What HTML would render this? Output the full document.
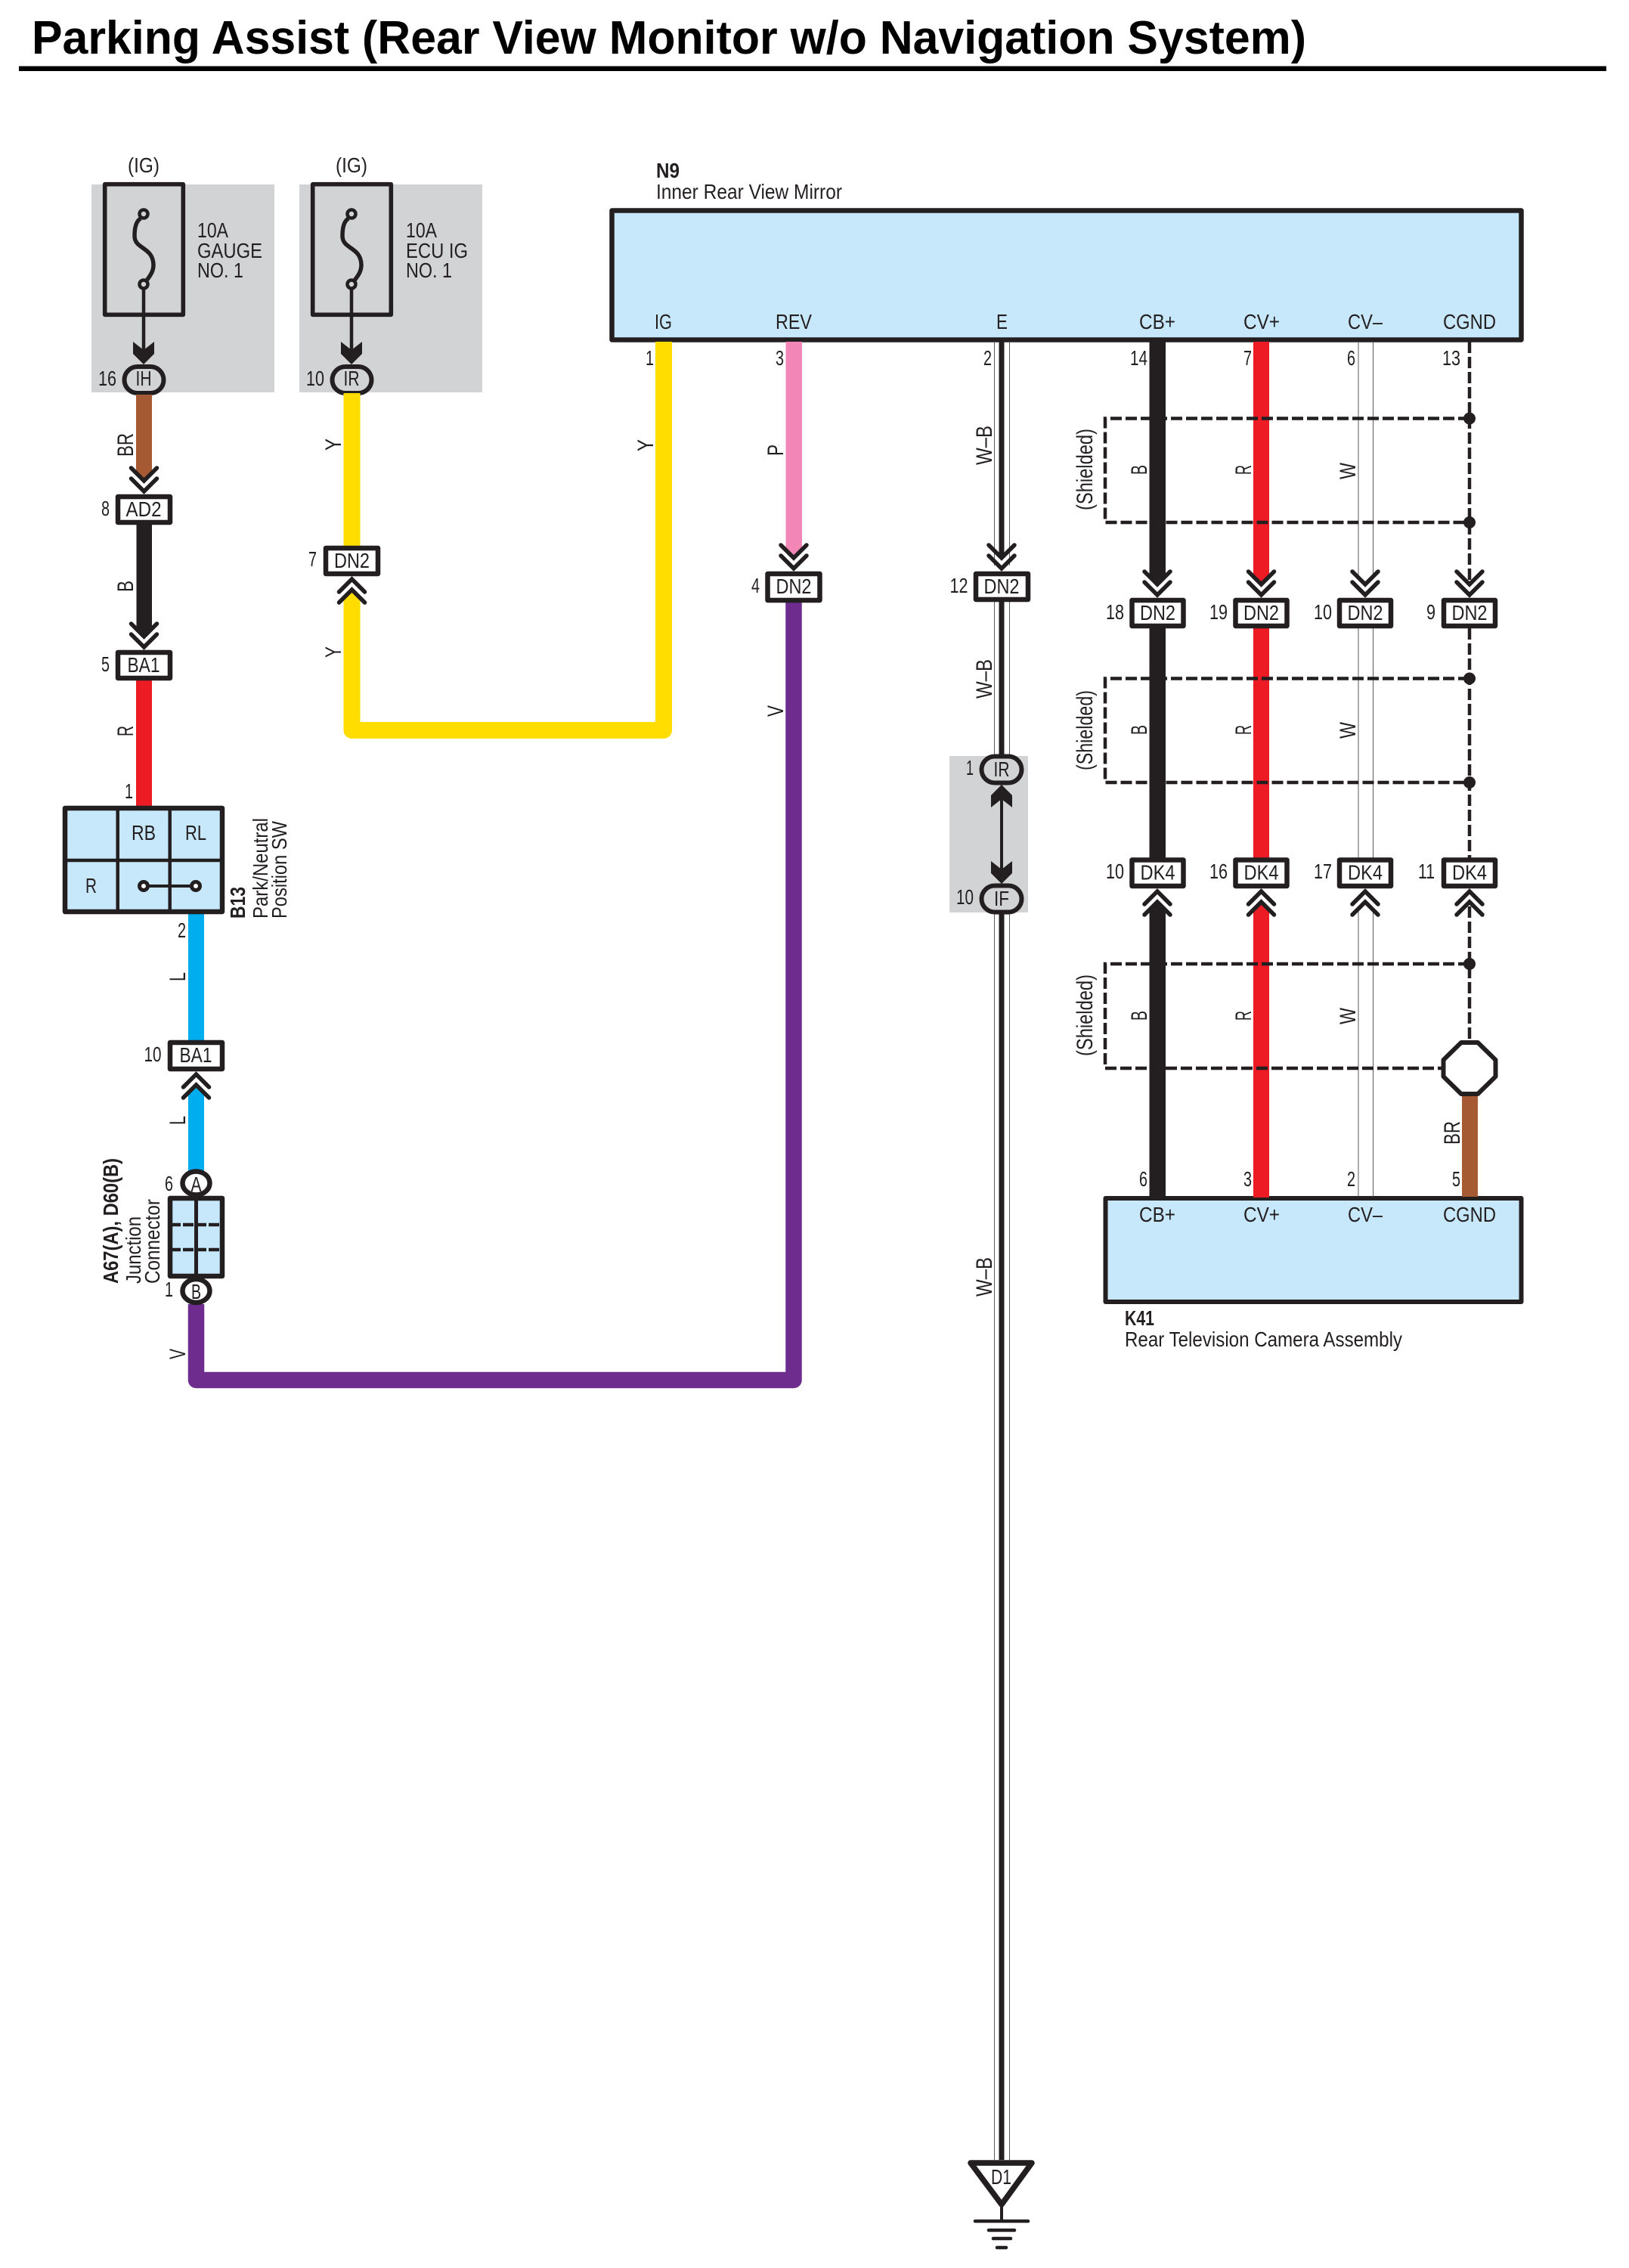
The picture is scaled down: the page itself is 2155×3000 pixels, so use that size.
<!DOCTYPE html>
<html><head><meta charset="utf-8"><title>Parking Assist</title>
<style>
html,body{margin:0;padding:0;background:#fff}
svg{display:block}
text{font-family:"Liberation Sans",sans-serif;font-size:28px;fill:#231f20}
text[transform]{font-size:30px}
text.c{font-size:28px}
.b{font-weight:bold}
.m{text-anchor:middle}
</style></head><body>
<svg xmlns="http://www.w3.org/2000/svg" width="2155" height="3000" viewBox="0 0 2155 3000">
<rect width="2155" height="3000" fill="#fff"/>
<text x="42" y="71" class="b" style="font-size:62px;fill:#000" textLength="1686" lengthAdjust="spacingAndGlyphs">Parking Assist (Rear View Monitor w/o Navigation System)</text>
<rect x="25" y="87.5" width="2100" height="6.5" fill="#000"/>

<!-- grey blocks -->
<rect x="121" y="244" width="242" height="275" fill="#d1d3d4"/>
<rect x="396" y="244" width="242" height="275" fill="#d1d3d4"/>
<rect x="1256" y="1000" width="104" height="207" fill="#d1d3d4"/>

<!-- modules -->
<rect x="809.5" y="278.5" width="1203" height="171" fill="#c7e8fb" stroke="#231f20" stroke-width="6.5" stroke-linejoin="round"/>
<rect x="1462.5" y="1585" width="550" height="137" fill="#c7e8fb" stroke="#231f20" stroke-width="6" stroke-linejoin="round"/>

<!-- fuse 1 -->
<g>
<rect x="138.7" y="243.7" width="103.6" height="172.6" fill="none" stroke="#231f20" stroke-width="5.6" stroke-linejoin="round"/>
<path d="M186 289C179 293 178 305 178 312C178 330 202 326 203 350C203 360 198 365 194 371" fill="none" stroke="#231f20" stroke-width="5.5"/>
<circle cx="190" cy="283" r="5.5" fill="#d1d3d4" stroke="#231f20" stroke-width="4.5"/>
<circle cx="190" cy="376" r="5.5" fill="#d1d3d4" stroke="#231f20" stroke-width="4.5"/>
<line x1="190" y1="381" x2="190" y2="465" stroke="#231f20" stroke-width="4.5"/>
<polygon points="176,452 190,463 204,452 204,468 190,482 176,468" fill="#231f20"/>
<rect x="164.5" y="485" width="52" height="35" rx="17.5" fill="#d1d3d4" stroke="#231f20" stroke-width="6"/>
</g>
<g transform="translate(275,0)">
<rect x="138.7" y="243.7" width="103.6" height="172.6" fill="none" stroke="#231f20" stroke-width="5.6" stroke-linejoin="round"/>
<path d="M186 289C179 293 178 305 178 312C178 330 202 326 203 350C203 360 198 365 194 371" fill="none" stroke="#231f20" stroke-width="5.5"/>
<circle cx="190" cy="283" r="5.5" fill="#d1d3d4" stroke="#231f20" stroke-width="4.5"/>
<circle cx="190" cy="376" r="5.5" fill="#d1d3d4" stroke="#231f20" stroke-width="4.5"/>
<line x1="190" y1="381" x2="190" y2="465" stroke="#231f20" stroke-width="4.5"/>
<polygon points="176,452 190,463 204,452 204,468 190,482 176,468" fill="#231f20"/>
<rect x="164.5" y="485" width="52" height="35" rx="17.5" fill="#d1d3d4" stroke="#231f20" stroke-width="6"/>
</g>

<!-- left wires -->
<polygon points="180,522 201,522 201,626 190.5,636 180,626" fill="#a65a34"/>
<polygon points="180.5,694 201,694 201,832 190.5,842 180.5,832" fill="#231f20"/>
<rect x="180" y="900" width="21" height="167" fill="#ed1c24"/>
<polygon points="249,1209 270,1209 270,1377 249,1377" fill="#00aeef"/>
<polygon points="259.5,1435 270,1445 270,1549 249,1549 249,1445" fill="#00aeef"/>
<polyline points="259.5,1725 259.5,1825.5 1050,1825.5 1050,796" fill="none" stroke="#6d2c8e" stroke-width="21.5" stroke-linejoin="round"/>
<polyline points="465.5,790 465.5,966 878,966 878,452" fill="none" stroke="#ffdd00" stroke-width="22" stroke-linejoin="round"/>
<polygon points="454.5,790 465.5,780 476.5,790" fill="#ffdd00"/>
<rect x="454.5" y="520" width="22" height="204" fill="#ffdd00"/>
<polygon points="1039.5,452 1061,452 1061,728 1050,738 1039.5,728" fill="#f287b7"/>

<!-- E wire -->
<g stroke="#58595b" stroke-width="1">
<line x1="1315.5" y1="452" x2="1315.5" y2="748"/><line x1="1335.5" y1="452" x2="1335.5" y2="748"/>
<line x1="1315.5" y1="796" x2="1315.5" y2="1002"/><line x1="1335.5" y1="796" x2="1335.5" y2="1002"/>
<line x1="1315.5" y1="1205" x2="1315.5" y2="2857"/><line x1="1335.5" y1="1205" x2="1335.5" y2="2857"/>
</g>
<g fill="#231f20">
<rect x="1321.5" y="452" width="7" height="286"/>
<rect x="1321.5" y="796" width="7" height="204"/>
<rect x="1321.5" y="1207" width="7" height="1650"/>
</g>
<line x1="1325" y1="1057" x2="1325" y2="1150" stroke="#231f20" stroke-width="4"/>
<polygon points="1325,1038 1339,1052 1339,1068 1325,1057 1311,1068 1311,1052" fill="#231f20"/>
<polygon points="1311,1139 1325,1150 1339,1139 1339,1155 1325,1169 1311,1155" fill="#231f20"/>
<rect x="1298.5" y="1000.5" width="53" height="35" rx="17.5" fill="#d1d3d4" stroke="#231f20" stroke-width="6"/>
<rect x="1298.5" y="1171.5" width="53" height="35" rx="17.5" fill="#d1d3d4" stroke="#231f20" stroke-width="6"/>

<!-- D1 ground -->
<polygon points="1284,2861 1365,2861 1325,2916" fill="#fff" stroke="#231f20" stroke-width="7.5" stroke-linejoin="round"/>
<g stroke="#231f20" stroke-linecap="round">
<line x1="1325" y1="2918" x2="1325" y2="2938" stroke-width="4"/>
<line x1="1290" y1="2938" x2="1360" y2="2938" stroke-width="4.5"/>
<line x1="1308" y1="2950" x2="1342" y2="2950" stroke-width="4.5"/>
<line x1="1314" y1="2961" x2="1337" y2="2961" stroke-width="4.5"/>
<line x1="1319" y1="2973" x2="1331" y2="2973" stroke-width="4.5"/>
</g>

<!-- right wires -->
<g fill="#231f20">
<polygon points="1520.5,452 1542,452 1542,763 1531,773 1520.5,763"/>
<rect x="1520.5" y="831" width="21.5" height="304"/>
<polygon points="1531,1193 1542,1203 1542,1584 1520.5,1584 1520.5,1203"/>
</g>
<g fill="#ed1c24">
<polygon points="1658,452 1679,452 1679,763 1668.5,773 1658,763"/>
<rect x="1658" y="831" width="21" height="304"/>
<polygon points="1668.5,1193 1679,1203 1679,1584 1658,1584 1658,1203"/>
</g>
<g stroke="#58595b" stroke-width="1">
<line x1="1797" y1="452" x2="1797" y2="763"/><line x1="1816.5" y1="452" x2="1816.5" y2="763"/>
<line x1="1797" y1="831" x2="1797" y2="1135"/><line x1="1816.5" y1="831" x2="1816.5" y2="1135"/>
<line x1="1797" y1="1202" x2="1797" y2="1583"/><line x1="1816.5" y1="1202" x2="1816.5" y2="1583"/>
</g>
<rect x="1934" y="1449" width="21" height="134" fill="#a65a34"/>

<!-- shields -->
<g fill="none" stroke="#231f20" stroke-width="4.5" stroke-dasharray="15 5">
<line x1="1944" y1="452" x2="1944" y2="773"/>
<line x1="1944" y1="831" x2="1944" y2="1135"/>
<line x1="1944" y1="1199" x2="1944" y2="1378"/>
<polyline points="1944,553.5 1462,553.5 1462,691 1944,691"/>
<polyline points="1944,897.5 1462,897.5 1462,1035 1944,1035"/>
<polyline points="1944,1275 1462,1275 1462,1413 1910,1413"/>
</g>
<g fill="#231f20">
<circle cx="1944" cy="553.5" r="8"/><circle cx="1944" cy="691" r="8"/>
<circle cx="1944" cy="897.5" r="8"/><circle cx="1944" cy="1035" r="8"/>
<circle cx="1944" cy="1275" r="8"/>
</g>
<polygon points="1933,1379 1955,1379 1978.5,1402 1978.5,1424 1955,1447 1933,1447 1909.5,1424 1909.5,1402" fill="#fff" stroke="#231f20" stroke-width="6" stroke-linejoin="round"/>

<!-- chevrons -->
<g fill="none" stroke="#231f20" stroke-width="5.5" stroke-linecap="round" stroke-linejoin="miter">
<path d="M173.5 619L190.5 636L207.5 619M173.5 633L190.5 650L207.5 633"/>
<path d="M173.5 825L190.5 842L207.5 825M173.5 839L190.5 856L207.5 839"/>
<path d="M1033 721L1050 738L1067 721M1033 735L1050 752L1067 735"/>
<path d="M1308 721L1325 738L1342 721M1308 735L1325 752L1342 735"/>
<path d="M1514 756L1531 773L1548 756M1514 770L1531 787L1548 770"/>
<path d="M1651.5 756L1668.5 773L1685.5 756M1651.5 770L1668.5 787L1685.5 770"/>
<path d="M1789 756L1806 773L1823 756M1789 770L1806 787L1823 770"/>
<path d="M1927 756L1944 773L1961 756M1927 770L1944 787L1961 770"/>
<path d="M448.5 783L465.5 766L482.5 783M448.5 797L465.5 780L482.5 797"/>
<path d="M242.5 1438L259.5 1421L276.5 1438M242.5 1452L259.5 1435L276.5 1452"/>
<path d="M1514 1196L1531 1179L1548 1196M1514 1210L1531 1193L1548 1210"/>
<path d="M1651.5 1196L1668.5 1179L1685.5 1196M1651.5 1210L1668.5 1193L1685.5 1210"/>
<path d="M1789 1196L1806 1179L1823 1196M1789 1210L1806 1193L1823 1210"/>
<path d="M1927 1196L1944 1179L1961 1196M1927 1210L1944 1193L1961 1210"/>
</g>

<!-- connectors -->
<g fill="#fff" stroke="#231f20" stroke-width="6.5" stroke-linejoin="round">
<rect x="156" y="657" width="69" height="34"/>
<rect x="156" y="863" width="69" height="34"/>
<rect x="225" y="1379" width="69" height="35"/>
<rect x="431" y="725" width="69" height="34"/>
<rect x="1015.5" y="759" width="69" height="35"/>
<rect x="1291" y="759" width="69" height="34"/>
<rect x="1497.5" y="794" width="68" height="34"/>
<rect x="1634.5" y="794" width="68" height="34"/>
<rect x="1772" y="794" width="68" height="34"/>
<rect x="1910" y="794" width="68" height="34"/>
<rect x="1497.5" y="1137.5" width="68" height="34.5"/>
<rect x="1634.5" y="1137.5" width="68" height="34.5"/>
<rect x="1772" y="1137.5" width="68" height="34.5"/>
<rect x="1910" y="1137.5" width="68" height="34.5"/>
</g>

<!-- B13 -->
<rect x="86" y="1069" width="208" height="137" fill="#c7e8fb" stroke="#231f20" stroke-width="6.5" stroke-linejoin="round"/>
<g stroke="#231f20" stroke-width="4.5">
<line x1="155.7" y1="1069" x2="155.7" y2="1206"/>
<line x1="224.7" y1="1069" x2="224.7" y2="1206"/>
<line x1="86" y1="1138" x2="294" y2="1138"/>
</g>
<line x1="190" y1="1172" x2="259" y2="1172" stroke="#231f20" stroke-width="4"/>
<circle cx="190" cy="1172" r="5.5" fill="#fff" stroke="#231f20" stroke-width="5"/>
<circle cx="259" cy="1172" r="5.5" fill="#fff" stroke="#231f20" stroke-width="5"/>

<!-- junction connector -->
<rect x="225" y="1585" width="69" height="103" fill="#c7e8fb" stroke="#231f20" stroke-width="6.5" stroke-linejoin="round"/>
<line x1="259.5" y1="1585" x2="259.5" y2="1688" stroke="#231f20" stroke-width="5"/>
<g stroke="#231f20" stroke-width="4.5" stroke-dasharray="14 3">
<line x1="225" y1="1620" x2="294" y2="1620"/>
<line x1="225" y1="1653" x2="294" y2="1653"/>
</g>
<ellipse cx="259.5" cy="1565" rx="18" ry="15.5" fill="#fff" stroke="#231f20" stroke-width="6.5"/>
<ellipse cx="259.5" cy="1707.5" rx="18" ry="15.5" fill="#fff" stroke="#231f20" stroke-width="6.5"/>

<!-- top text -->
<text x="190" y="228" class="m" textLength="42" lengthAdjust="spacingAndGlyphs">(IG)</text>
<text x="465" y="228" class="m" textLength="42" lengthAdjust="spacingAndGlyphs">(IG)</text>
<text x="261" y="314" textLength="41" lengthAdjust="spacingAndGlyphs">10A</text>
<text x="261" y="341" textLength="86" lengthAdjust="spacingAndGlyphs">GAUGE</text>
<text x="261" y="367" textLength="61" lengthAdjust="spacingAndGlyphs">NO. 1</text>
<text x="537" y="314" textLength="41" lengthAdjust="spacingAndGlyphs">10A</text>
<text x="537" y="341" textLength="82" lengthAdjust="spacingAndGlyphs">ECU IG</text>
<text x="537" y="367" textLength="61" lengthAdjust="spacingAndGlyphs">NO. 1</text>
<text x="868" y="235" class="b" textLength="31" lengthAdjust="spacingAndGlyphs">N9</text>
<text x="868" y="263" textLength="246" lengthAdjust="spacingAndGlyphs">Inner Rear View Mirror</text>
<text x="866" y="435" textLength="23" lengthAdjust="spacingAndGlyphs">IG</text>
<text x="1026" y="435" textLength="48" lengthAdjust="spacingAndGlyphs">REV</text>
<text x="1318" y="435" textLength="15" lengthAdjust="spacingAndGlyphs">E</text>
<text x="1507" y="435" textLength="48" lengthAdjust="spacingAndGlyphs">CB+</text>
<text x="1645" y="435" textLength="48" lengthAdjust="spacingAndGlyphs">CV+</text>
<text x="1783" y="435" textLength="46" lengthAdjust="spacingAndGlyphs">CV–</text>
<text x="1909" y="435" textLength="70" lengthAdjust="spacingAndGlyphs">CGND</text>
<text x="1507" y="1616" textLength="48" lengthAdjust="spacingAndGlyphs">CB+</text>
<text x="1645" y="1616" textLength="48" lengthAdjust="spacingAndGlyphs">CV+</text>
<text x="1783" y="1616" textLength="46" lengthAdjust="spacingAndGlyphs">CV–</text>
<text x="1909" y="1616" textLength="70" lengthAdjust="spacingAndGlyphs">CGND</text>
<text x="1488" y="1753" class="b" textLength="39" lengthAdjust="spacingAndGlyphs">K41</text>
<text x="1488" y="1781" textLength="367" lengthAdjust="spacingAndGlyphs">Rear Television Camera Assembly</text>

<!-- connector codes -->
<g>
<text x="190" y="510" class="m" textLength="21" lengthAdjust="spacingAndGlyphs">IH</text>
<text x="465" y="510" class="m" textLength="21" lengthAdjust="spacingAndGlyphs">IR</text>
<text x="1325" y="1027" class="m" textLength="21" lengthAdjust="spacingAndGlyphs">IR</text>
<text x="1325" y="1198" class="m" textLength="20" lengthAdjust="spacingAndGlyphs">IF</text>
<text x="190" y="683" class="m" textLength="47" lengthAdjust="spacingAndGlyphs">AD2</text>
<text x="190" y="889" class="m" textLength="43" lengthAdjust="spacingAndGlyphs">BA1</text>
<text x="259" y="1405" class="m" textLength="43" lengthAdjust="spacingAndGlyphs">BA1</text>
<text x="465.5" y="751" class="m" textLength="47" lengthAdjust="spacingAndGlyphs">DN2</text>
<text x="1050" y="785" class="m" textLength="47" lengthAdjust="spacingAndGlyphs">DN2</text>
<text x="1325" y="785" class="m" textLength="47" lengthAdjust="spacingAndGlyphs">DN2</text>
<text x="1531.5" y="820" class="m" textLength="47" lengthAdjust="spacingAndGlyphs">DN2</text>
<text x="1668.5" y="820" class="m" textLength="47" lengthAdjust="spacingAndGlyphs">DN2</text>
<text x="1806" y="820" class="m" textLength="47" lengthAdjust="spacingAndGlyphs">DN2</text>
<text x="1944" y="820" class="m" textLength="47" lengthAdjust="spacingAndGlyphs">DN2</text>
<text x="1531.5" y="1163.5" class="m" textLength="46" lengthAdjust="spacingAndGlyphs">DK4</text>
<text x="1668.5" y="1163.5" class="m" textLength="46" lengthAdjust="spacingAndGlyphs">DK4</text>
<text x="1806" y="1163.5" class="m" textLength="46" lengthAdjust="spacingAndGlyphs">DK4</text>
<text x="1944" y="1163.5" class="m" textLength="46" lengthAdjust="spacingAndGlyphs">DK4</text>
<text x="259.5" y="1576" class="m" textLength="14" lengthAdjust="spacingAndGlyphs">A</text>
<text x="259.5" y="1718" class="m" textLength="13" lengthAdjust="spacingAndGlyphs">B</text>
<text x="190" y="1111" class="m" textLength="32" lengthAdjust="spacingAndGlyphs">RB</text>
<text x="259" y="1111" class="m" textLength="28" lengthAdjust="spacingAndGlyphs">RL</text>
<text x="120.5" y="1181" class="m" textLength="15" lengthAdjust="spacingAndGlyphs">R</text>
<text x="1324.5" y="2889" class="m" textLength="27" lengthAdjust="spacingAndGlyphs">D1</text>
</g>

<!-- pin numbers -->
<g>
<text x="130" y="510" textLength="24" lengthAdjust="spacingAndGlyphs">16</text>
<text x="405" y="510" textLength="24" lengthAdjust="spacingAndGlyphs">10</text>
<text x="134" y="682" textLength="11" lengthAdjust="spacingAndGlyphs">8</text>
<text x="134" y="888" textLength="11" lengthAdjust="spacingAndGlyphs">5</text>
<text x="165" y="1056" textLength="11" lengthAdjust="spacingAndGlyphs">1</text>
<text x="235" y="1240" textLength="11" lengthAdjust="spacingAndGlyphs">2</text>
<text x="190.5" y="1404" textLength="23" lengthAdjust="spacingAndGlyphs">10</text>
<text x="218" y="1575" textLength="11" lengthAdjust="spacingAndGlyphs">6</text>
<text x="218" y="1715" textLength="11" lengthAdjust="spacingAndGlyphs">1</text>
<text x="408" y="749" textLength="11" lengthAdjust="spacingAndGlyphs">7</text>
<text x="854" y="483" textLength="11" lengthAdjust="spacingAndGlyphs">1</text>
<text x="1026" y="483" textLength="11" lengthAdjust="spacingAndGlyphs">3</text>
<text x="1301" y="483" textLength="11" lengthAdjust="spacingAndGlyphs">2</text>
<text x="1495" y="483" textLength="23" lengthAdjust="spacingAndGlyphs">14</text>
<text x="1645" y="483" textLength="11" lengthAdjust="spacingAndGlyphs">7</text>
<text x="1782" y="483" textLength="11" lengthAdjust="spacingAndGlyphs">6</text>
<text x="1908" y="483" textLength="24" lengthAdjust="spacingAndGlyphs">13</text>
<text x="994" y="784" textLength="11" lengthAdjust="spacingAndGlyphs">4</text>
<text x="1256.5" y="784" textLength="24" lengthAdjust="spacingAndGlyphs">12</text>
<text x="1463" y="819" textLength="24" lengthAdjust="spacingAndGlyphs">18</text>
<text x="1600" y="819" textLength="24" lengthAdjust="spacingAndGlyphs">19</text>
<text x="1738" y="819" textLength="24" lengthAdjust="spacingAndGlyphs">10</text>
<text x="1887" y="819" textLength="12" lengthAdjust="spacingAndGlyphs">9</text>
<text x="1278" y="1025" textLength="10" lengthAdjust="spacingAndGlyphs">1</text>
<text x="1265" y="1196" textLength="23" lengthAdjust="spacingAndGlyphs">10</text>
<text x="1463" y="1162" textLength="24" lengthAdjust="spacingAndGlyphs">10</text>
<text x="1600" y="1162" textLength="24" lengthAdjust="spacingAndGlyphs">16</text>
<text x="1738" y="1162" textLength="24" lengthAdjust="spacingAndGlyphs">17</text>
<text x="1876" y="1162" textLength="22" lengthAdjust="spacingAndGlyphs">11</text>
<text x="1507" y="1569" textLength="11" lengthAdjust="spacingAndGlyphs">6</text>
<text x="1645" y="1569" textLength="11" lengthAdjust="spacingAndGlyphs">3</text>
<text x="1782" y="1569" textLength="11" lengthAdjust="spacingAndGlyphs">2</text>
<text x="1921" y="1569" textLength="11" lengthAdjust="spacingAndGlyphs">5</text>
</g>

<!-- rotated wire labels -->
<text transform="translate(176,604) rotate(-90)" textLength="31" lengthAdjust="spacingAndGlyphs">BR</text>
<text transform="translate(176,783) rotate(-90)" textLength="15" lengthAdjust="spacingAndGlyphs">B</text>
<text transform="translate(176,974) rotate(-90)" textLength="14" lengthAdjust="spacingAndGlyphs">R</text>
<text transform="translate(245,1298) rotate(-90)" textLength="12" lengthAdjust="spacingAndGlyphs">L</text>
<text transform="translate(245,1488) rotate(-90)" textLength="12" lengthAdjust="spacingAndGlyphs">L</text>
<text transform="translate(245,1798) rotate(-90)" textLength="14" lengthAdjust="spacingAndGlyphs">V</text>
<text transform="translate(451,596) rotate(-90)" textLength="16" lengthAdjust="spacingAndGlyphs">Y</text>
<text transform="translate(451,870) rotate(-90)" textLength="15" lengthAdjust="spacingAndGlyphs">Y</text>
<text transform="translate(864,597) rotate(-90)" textLength="16" lengthAdjust="spacingAndGlyphs">Y</text>
<text transform="translate(1036,603) rotate(-90)" textLength="15" lengthAdjust="spacingAndGlyphs">P</text>
<text transform="translate(1036,948) rotate(-90)" textLength="15" lengthAdjust="spacingAndGlyphs">V</text>
<text transform="translate(1312,615) rotate(-90)" textLength="52" lengthAdjust="spacingAndGlyphs">W–B</text>
<text transform="translate(1312,924) rotate(-90)" textLength="52" lengthAdjust="spacingAndGlyphs">W–B</text>
<text transform="translate(1312,1715) rotate(-90)" textLength="52" lengthAdjust="spacingAndGlyphs">W–B</text>

<text transform="translate(1445,675) rotate(-90)" textLength="108" lengthAdjust="spacingAndGlyphs">(Shielded)</text>
<text transform="translate(1445,1019) rotate(-90)" textLength="106" lengthAdjust="spacingAndGlyphs">(Shielded)</text>
<text transform="translate(1445,1397) rotate(-90)" textLength="108" lengthAdjust="spacingAndGlyphs">(Shielded)</text>

<text transform="translate(1517,628) rotate(-90)" textLength="13" lengthAdjust="spacingAndGlyphs">B</text>
<text transform="translate(1517,972) rotate(-90)" textLength="13" lengthAdjust="spacingAndGlyphs">B</text>
<text transform="translate(1517,1350) rotate(-90)" textLength="13" lengthAdjust="spacingAndGlyphs">B</text>
<text transform="translate(1655,628) rotate(-90)" textLength="13" lengthAdjust="spacingAndGlyphs">R</text>
<text transform="translate(1655,972) rotate(-90)" textLength="13" lengthAdjust="spacingAndGlyphs">R</text>
<text transform="translate(1655,1350) rotate(-90)" textLength="13" lengthAdjust="spacingAndGlyphs">R</text>
<text transform="translate(1793,634) rotate(-90)" textLength="22" lengthAdjust="spacingAndGlyphs">W</text>
<text transform="translate(1793,977) rotate(-90)" textLength="22" lengthAdjust="spacingAndGlyphs">W</text>
<text transform="translate(1793,1355) rotate(-90)" textLength="22" lengthAdjust="spacingAndGlyphs">W</text>
<text transform="translate(1931,1514) rotate(-90)" textLength="31" lengthAdjust="spacingAndGlyphs">BR</text>

<!-- rotated component labels -->
<text transform="translate(324,1215) rotate(-90)" class="b c" textLength="42" lengthAdjust="spacingAndGlyphs">B13</text>
<text transform="translate(354,1215) rotate(-90)" class="c" textLength="133" lengthAdjust="spacingAndGlyphs">Park/Neutral</text>
<text transform="translate(379,1215) rotate(-90)" class="c" textLength="129" lengthAdjust="spacingAndGlyphs">Position SW</text>
<text transform="translate(156,1698) rotate(-90)" class="b c" textLength="166" lengthAdjust="spacingAndGlyphs">A67(A), D60(B)</text>
<text transform="translate(186,1698) rotate(-90)" class="c" textLength="89" lengthAdjust="spacingAndGlyphs">Junction</text>
<text transform="translate(211,1698) rotate(-90)" class="c" textLength="112" lengthAdjust="spacingAndGlyphs">Connector</text>
</svg>
</body></html>
